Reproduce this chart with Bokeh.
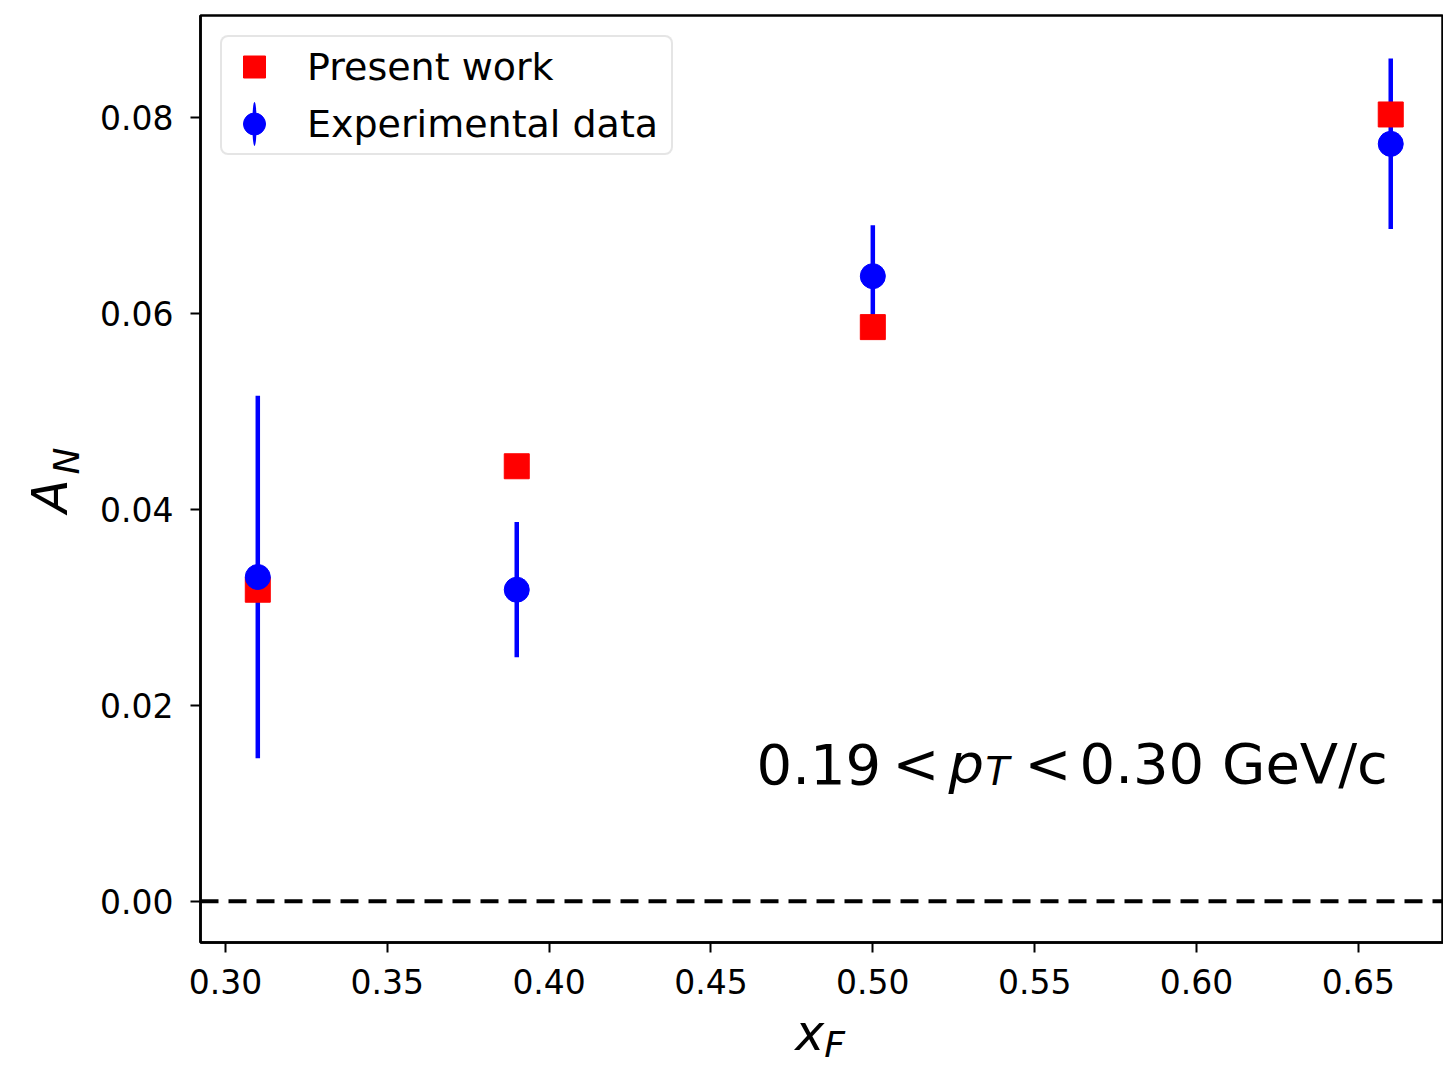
from bokeh.plotting import figure
from bokeh.models import (Span, Label, Legend, LegendItem, LinearAxis,
                          Range1d, FixedTicker, PrintfTickFormatter)
from bokeh.embed import file_html
from bokeh.resources import INLINE

# ---- data ----
x_f = [0.31, 0.39, 0.50, 0.66]
present_work = [0.0318, 0.0444, 0.0586, 0.0803]
exp_data = [0.0331, 0.0318, 0.0638, 0.0773]
exp_err = [0.0185, 0.0069, 0.0052, 0.0087]
x_ticks = [0.30, 0.35, 0.40, 0.45, 0.50, 0.55, 0.60, 0.65]
y_ticks = [0.00, 0.02, 0.04, 0.06, 0.08]
legend_labels = ["Present work", "Experimental data"]

FONT = "DejaVu Sans"

p = figure(width=1443, height=1067,
           x_range=Range1d(0.2923, 0.6763), y_range=Range1d(-0.0042, 0.0904),
           output_backend="svg", toolbar_location=None,
           min_border_left=200, min_border_right=0, min_border_top=15,
           min_border_bottom=125)

p.xgrid.visible = False
p.ygrid.visible = False
p.outline_line_color = "black"
p.outline_line_width = 2.5
p.background_fill_color = "white"
p.border_fill_color = "white"

for ax, ticks in ((p.xaxis[0], x_ticks), (p.yaxis[0], y_ticks)):
    ax.ticker = FixedTicker(ticks=ticks)
    ax.formatter = PrintfTickFormatter(format="%.2f")
    ax.axis_line_width = 2.5
    ax.axis_line_color = "black"
    ax.major_tick_out = 10
    ax.major_tick_in = 0
    ax.major_tick_line_width = 2
    ax.minor_tick_line_color = None
    ax.major_label_text_font = FONT
    ax.major_label_text_font_size = "33px"
    ax.major_label_text_color = "black"
    ax.axis_label_text_font = FONT
    ax.axis_label_text_font_style = "italic"
    ax.axis_label_text_color = "black"
p.xaxis.major_label_standoff = 16
p.yaxis.major_label_standoff = 17

# main symbol on the inner axis, subscript on an outer label-only axis
p.xaxis[0].axis_label = "x\u2002"
p.xaxis[0].axis_label_text_font_size = "49px"
p.xaxis[0].axis_label_standoff = 8
p.yaxis[0].axis_label = "\u2003N"
p.yaxis[0].axis_label_text_font_size = "36px"
p.yaxis[0].axis_label_standoff = 10


def label_axis(text, size, standoff):
    return LinearAxis(ticker=FixedTicker(ticks=[]), axis_label=text,
                      axis_label_text_font=FONT, axis_label_text_font_size=size,
                      axis_label_text_font_style="italic",
                      axis_label_text_color="black",
                      axis_label_standoff=standoff,
                      axis_line_color=None, major_tick_line_color=None,
                      minor_tick_line_color=None, major_tick_out=0,
                      major_label_standoff=0)


p.add_layout(label_axis("\u2002\u2009F", "36px", -41), "below")
p.add_layout(label_axis("A\u2002\u2009", "49px", -35), "left")

# zero line
p.add_layout(Span(location=0.0, dimension="width", line_color="black",
                  line_width=4, line_dash="18 10"))

# error bars
lo = [y - e for y, e in zip(exp_data, exp_err)]
hi = [y + e for y, e in zip(exp_data, exp_err)]
# legend key for the error-bar stroke (lies hidden under the first bar)
lens = p.ellipse(x=[x_f[0]], y=[exp_data[0]], width=4, height=40,
                 width_units="screen", height_units="screen",
                 fill_color="blue", line_color=None)
seg = p.segment(x0=x_f, y0=lo, x1=x_f, y1=hi, line_color="blue", line_width=4.5)
sq = p.scatter(x=x_f, y=present_work, marker="square", size=25,
               fill_color="red", line_color="red")
ci = p.scatter(x=x_f, y=exp_data, marker="circle", size=25,
               fill_color="blue", line_color="blue")

legend = Legend(items=[LegendItem(label=legend_labels[0], renderers=[sq]),
                       LegendItem(label=legend_labels[1], renderers=[lens, ci])],
                location="top_left", margin=20, padding=2, spacing=2,
                glyph_width=60, glyph_height=55, label_standoff=23,
                label_width=362,
                label_text_font=FONT, label_text_font_size="38px",
                label_text_color="black",
                border_line_color="#cccccc", border_line_width=2,
                border_radius=8,
                background_fill_color="white", background_fill_alpha=0.8)
p.add_layout(legend)


def lab(text, x, y, size, italic=False):
    p.add_layout(Label(x=x, y=y, x_units="screen", y_units="screen", text=text,
                       text_font=FONT, text_font_size=size,
                       text_font_style="italic" if italic else "normal",
                       text_color="black", text_align="left",
                       text_baseline="alphabetic"))


# annotation 0.19 < p_T < 0.30 GeV/c
lab("0.19", 556, 179, "56px")
lab("<", 692, 179, "56px")
lab("p", 748, 179, "56px", italic=True)
lab("T", 785, 171, "39px", italic=True)
lab("<", 824, 179, "56px")
lab("0.30 GeV/c", 879, 179, "56px")

open("out.html", "w").write(file_html(p, INLINE))
